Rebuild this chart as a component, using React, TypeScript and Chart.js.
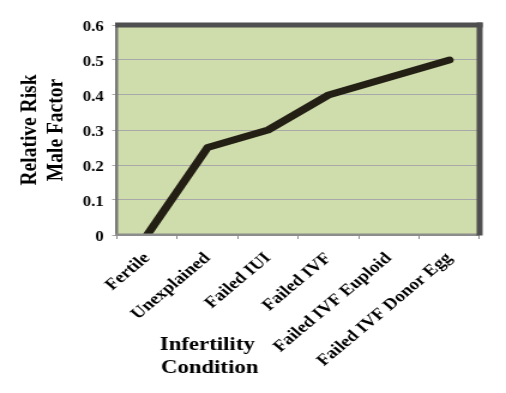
import React, { useEffect, useRef } from "react";
import { Chart, registerables } from "chart.js";

Chart.register(...registerables);

const categories = [
  "Fertile",
  "Unexplained",
  "Failed IUI",
  "Failed IVF",
  "Failed IVF Euploid",
  "Failed IVF Donor Egg",
];
const relativeRisk = [0, 0.25, 0.3, 0.4, 0.45, 0.5];
const yTickValues = [0, 0.1, 0.2, 0.3, 0.4, 0.5, 0.6];
const yTitle = ["Relative Risk", "Male Factor"];
const xTitle = ["Infertility", "Condition"];

const W = 506;
const H = 393;
const SX = 1.2; // horizontal stretch of the original picture
const LW = Math.round(W / SX);
const FONT = '"Liberation Serif", "Times New Roman", serif';

const bgPlugin = {
  id: "bgPlugin",
  beforeDraw(chart: any) {
    const { ctx, chartArea: a } = chart;
    ctx.save();
    ctx.fillStyle = "#ffffff";
    ctx.fillRect(0, 0, chart.width, chart.height);
    ctx.fillStyle = "#cfdcab";
    ctx.fillRect(a.left, a.top, a.right - a.left, a.bottom - a.top);
    ctx.restore();
  },
};

const framePlugin = {
  id: "framePlugin",
  afterDatasetsDraw(chart: any) {
    const { ctx, chartArea: a } = chart;
    ctx.save();
    // left
    ctx.fillStyle = "#7a7a7a";
    ctx.fillRect(a.left - 1.5, a.top, 2.5, a.bottom - a.top);
    // bottom
    ctx.fillStyle = "#8c8c8c";
    ctx.fillRect(a.left - 1.5, a.bottom - 1.5, a.right - a.left + 1.5, 2.5);
    // top
    ctx.fillStyle = "#4f4f4f";
    ctx.fillRect(a.left - 1.5, a.top - 2.5, a.right - a.left + 4, 5);
    // right
    ctx.fillRect(a.right - 2.5, a.top - 2.5, 5, a.bottom - a.top + 3);
    ctx.restore();
  },
};

const xTitlePlugin = {
  id: "xTitlePlugin",
  afterDraw(chart: any) {
    const { ctx } = chart;
    ctx.save();
    ctx.fillStyle = "#000000";
    ctx.font = `bold 19px ${FONT}`;
    ctx.textAlign = "left";
    ctx.textBaseline = "alphabetic";
    ctx.fillText(xTitle[0], 160 / SX, 350);
    ctx.fillText(xTitle[1], 161 / SX, 373);
    ctx.restore();
  },
};

export default function App() {
  const ref = useRef<HTMLCanvasElement | null>(null);

  useEffect(() => {
    document.body.style.margin = "0";
    const canvas = ref.current;
    if (!canvas) return;
    const chart = new Chart(canvas, {
      type: "line",
      data: {
        labels: categories,
        datasets: [
          {
            data: relativeRisk,
            borderColor: "#231f14",
            backgroundColor: "#231f14",
            borderWidth: 7,
            pointRadius: 0,
            tension: 0,
            fill: false,
            borderCapStyle: "round",
            borderJoinStyle: "round",
          },
        ],
      },
      options: {
        responsive: false,
        animation: false,
        devicePixelRatio: 1,
        layout: { padding: { top: 25, right: LW - 400, left: 0, bottom: 0 } },
        plugins: {
          legend: { display: false },
          tooltip: { enabled: false },
          title: { display: false },
        },
        scales: {
          x: {
            type: "category",
            offset: true,
            border: { display: false },
            grid: {
              offset: true,
              drawOnChartArea: false,
              drawTicks: true,
              tickLength: 4,
              color: "#8c8c8c",
            },
            ticks: {
              autoSkip: false,
              minRotation: 45,
              maxRotation: 45,
              padding: 10,
              color: "#000000",
              font: { family: FONT, size: 16, weight: "bold" },
            },
            afterFit(scale: any) {
              scale.height = H - 235;
            },
          },
          y: {
            min: 0,
            max: 0.6,
            border: { display: false },
            grid: {
              color: "#a8a8a8",
              lineWidth: 1,
              drawTicks: true,
              tickLength: 4,
            },
            afterBuildTicks(scale: any) {
              scale.ticks = yTickValues.map((v) => ({ value: v }));
            },
            ticks: {
              padding: 7,
              labelOffset: 2,
              color: "#000000",
              font: { family: FONT, size: 14, weight: "bold" },
              callback: (v: any) => String(Math.round(Number(v) * 10) / 10),
            },
            title: {
              display: true,
              text: yTitle,
              color: "#000000",
              font: { family: FONT, size: 19.5, weight: "bold", lineHeight: 1.15 },
              padding: { top: 13.8, bottom: 0 },
            },
            afterFit(scale: any) {
              scale.width = 97.5;
            },
          },
        },
      },
      plugins: [bgPlugin, framePlugin, xTitlePlugin],
    } as any);
    return () => chart.destroy();
  }, []);

  return (
    <div
      style={{
        position: "fixed",
        left: 0,
        top: 0,
        width: W,
        height: H,
        background: "#ffffff",
        overflow: "hidden",
      }}
    >
      <canvas
        ref={ref}
        width={LW}
        height={H}
        style={{ display: "block", width: `${W}px`, height: `${H}px` }}
      />
    </div>
  );
}
